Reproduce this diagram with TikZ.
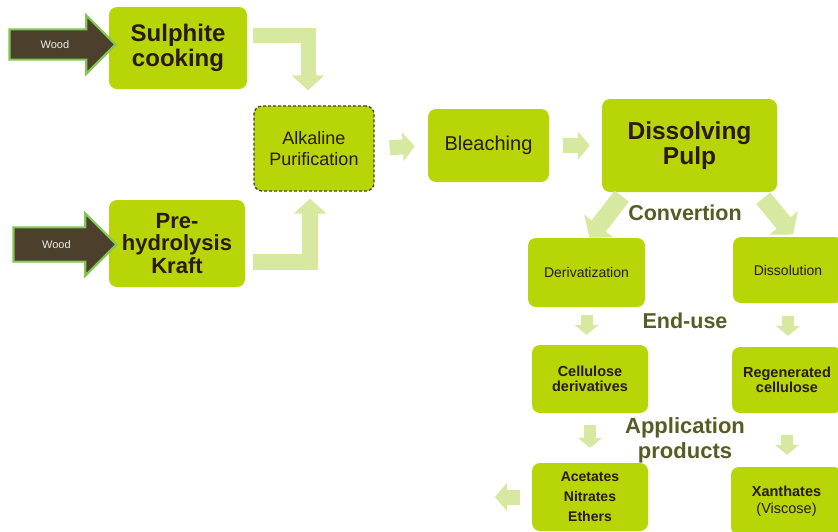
\documentclass[tikz,border=0pt]{standalone}
\usepackage{fontspec}
\setmainfont{Liberation Sans}
\usetikzlibrary{arrows.meta,shapes.arrows,positioning}

\definecolor{lime}{RGB}{184,213,8}
\definecolor{paleflow}{RGB}{215,232,160}
\definecolor{boxtext}{RGB}{42,26,14}
\definecolor{olivetext}{RGB}{88,92,36}
\definecolor{woodfill}{RGB}{76,64,44}
\definecolor{woodedge}{RGB}{132,198,82}

\begin{document}
\begin{tikzpicture}[x=1pt,y=-1pt,
	box/.style={fill=lime,rounded corners=8pt,text=boxtext,align=center,inner sep=2pt},
	stage/.style={font=\fontsize{#1}{#1}\selectfont\bfseries},
	flow/.style={paleflow,line width=15pt,-{Triangle[length=15pt,width=32pt]}},
	slant/.style={paleflow,line width=18pt,-{Triangle[length=15pt,width=36pt]}},
	nudge/.style={paleflow,line width=15pt,-{Triangle[length=12pt,width=28pt]}},
	drop/.style={paleflow,line width=12pt,-{Triangle[length=10pt,width=24pt]}},
	wood/.style={single arrow,fill=woodfill,draw=woodedge,line width=2.2pt,
		text=white!85!gray,font=\fontsize{11}{12}\selectfont,
		single arrow head extend=14pt,single arrow head indent=0pt,inner ysep=10pt}]
	\useasboundingbox (0,0) rectangle (838,531);

	% boxes
	\node[box,minimum width=138pt,minimum height=82pt,font=\fontsize{24}{25}\selectfont\bfseries] (sulph) at (178,48) {Sulphite\\cooking};
	\node[box,minimum width=136pt,minimum height=87pt,font=\fontsize{22}{22.5}\selectfont\bfseries] (kraft) at (177,243.5) {Pre-\\hydrolysis\\Kraft};
	\node[box,minimum width=120pt,minimum height=85pt,font=\fontsize{18}{21}\selectfont,
		draw=boxtext!85,densely dashed,line width=1.3pt] (alk) at (314,148.5) {Alkaline\\Purification};
	\node[box,minimum width=121pt,minimum height=73pt,font=\fontsize{20}{22}\selectfont] (bleach) at (488.5,145.5) {Bleaching};
	\node[box,minimum width=175pt,minimum height=93pt,font=\fontsize{24.5}{25}\selectfont\bfseries] (dp) at (689.5,145.5) {Dissolving\\Pulp};
	\node[box,minimum width=117pt,minimum height=69pt,font=\fontsize{14}{16}\selectfont] (deriv) at (586.5,272.5) {Derivatization};
	\node[box,minimum width=110pt,minimum height=66pt,font=\fontsize{14}{16}\selectfont] (dissol) at (788,270) {Dissolution};
	\node[box,minimum width=116pt,minimum height=68pt,font=\fontsize{14.5}{15.5}\selectfont\bfseries] (cellder) at (590,379) {Cellulose\\derivatives};
	\node[box,minimum width=110pt,minimum height=66pt,font=\fontsize{14.5}{15.5}\selectfont\bfseries] (regen) at (787,380) {Regenerated\\cellulose};
	\node[box,minimum width=116pt,minimum height=68pt,font=\fontsize{14}{20}\selectfont\bfseries] (acet) at (590,497) {Acetates\\Nitrates\\Ethers};
	\node[box,minimum width=111pt,minimum height=68pt,font=\fontsize{14.5}{17}\selectfont] (xanth) at (786.5,501) {\textbf{Xanthates}\\(Viscose)};

	% stage labels
	\node[stage=21.5,text=olivetext] (conv) at (685,213) {Convertion};
	\node[stage=21.5,text=olivetext] (enduse) at (685,321) {End-use};
	\node[stage=22,text=olivetext,align=center,font=\fontsize{22}{25}\selectfont\bfseries] (appl) at (685,440) {Application\\products};

	% flows
	\draw[flow,shorten <=6pt,shorten >=15pt] ([yshift=13pt]sulph.east) -| ([xshift=-6pt]alk.north);
	\draw[flow,line width=16pt,shorten <=8pt,shorten >=7pt] ([yshift=-18pt]kraft.east) -| ([xshift=-4pt]alk.south);
	\draw[nudge,shorten <=15pt,shorten >=13pt] (alk.east) -- (bleach.west);
	\draw[nudge,shorten <=14pt,shorten >=12pt] (bleach.east) -- (dp.west);
	\draw[slant] ([shift={(20pt,-4pt)}]dp.south west) -- ([xshift=3pt]deriv.north);
	\draw[slant,shorten >=3pt] ([shift={(-14pt,-6pt)}]dp.south east) -- ([xshift=7pt]dissol.north);
	\draw[drop,shorten <=8pt,shorten >=10pt] (deriv.south) -- (deriv.south |- cellder.north);
	\draw[drop,shorten <=13pt,shorten >=11pt] (dissol.south) -- (dissol.south |- regen.north);
	\draw[drop,shorten <=12pt,shorten >=15pt] (cellder.south) -- (acet.north);
	\draw[drop,shorten <=22pt,shorten >=12pt] (regen.south) -- (regen.south |- xanth.north);
	\coordinate (out) at (495,497);
	\draw[nudge,shorten <=12pt] (acet.west) -- (out);

	% wood inputs
	\node[wood,minimum height=106pt,anchor=tip] (wood1) at (117,44.5) {Wood};
	\node[wood,minimum height=103pt,anchor=tip,inner ysep=12pt] (wood2) at (118,244.5) {Wood};
\end{tikzpicture}
\end{document}
